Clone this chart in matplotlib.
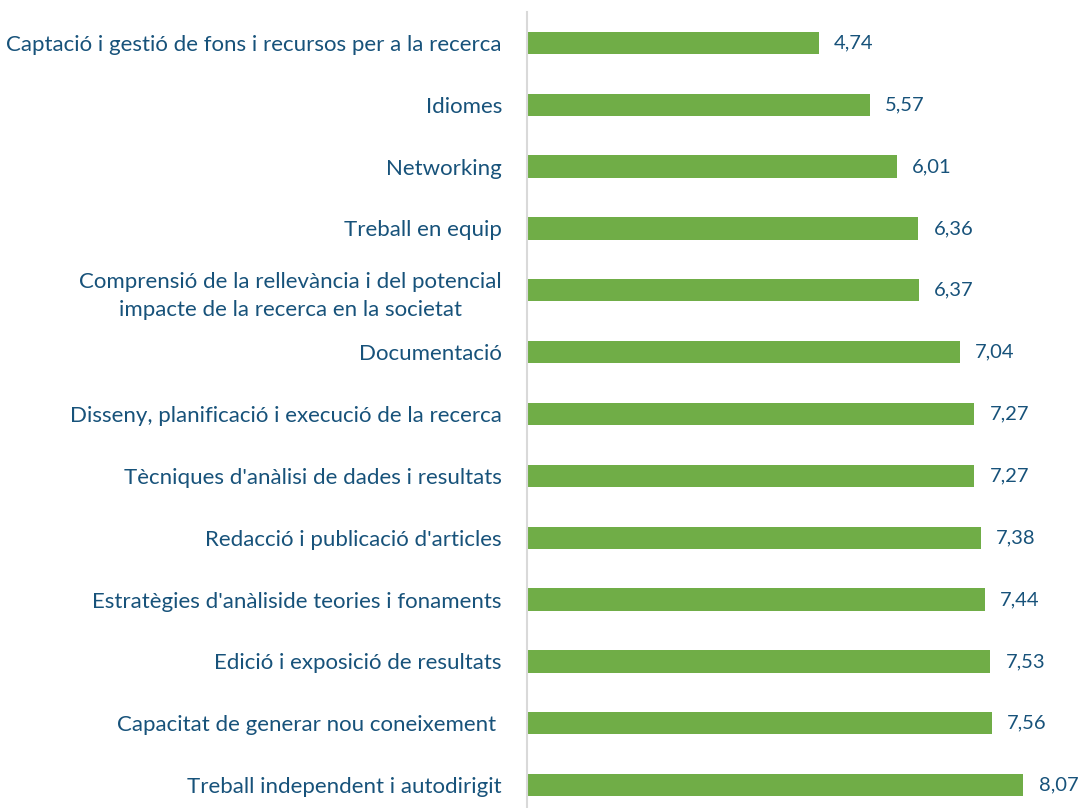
import matplotlib

matplotlib.use("Agg")

import matplotlib.pyplot as plt

# categories listed top to bottom, as in the reference
categories = [
    "Captació i gestió de fons i recursos per a la recerca",
    "Idiomes",
    "Networking",
    "Treball en equip",
    "Comprensió de la rellevància i del potencial\nimpacte de la recerca en la societat",
    "Documentació",
    "Disseny, planificació i execució de la recerca",
    "Tècniques d'anàlisi de dades i resultats",
    "Redacció i publicació d'articles",
    "Estratègies d'anàliside teories i fonaments",
    "Edició i exposició de resultats",
    "Capacitat de generar nou coneixement ",
    "Treball independent i autodirigit",
]
values = [4.74, 5.57, 6.01, 6.36, 6.37, 7.04, 7.27, 7.27, 7.38, 7.44, 7.53, 7.56, 8.07]

GREEN = "#70AD47"
TEXT = "#17527A"
W, H, DPI = 1082, 808, 100

plt.rcParams["font.family"] = ["Lato", "DejaVu Sans"]

fig = plt.figure(figsize=(W / DPI, H / DPI), dpi=DPI)
left, top, bottom = 527, 12, 816
ax = fig.add_axes([left / W, 1 - bottom / H, (W - left) / W, (bottom - top) / H])

y = list(range(len(categories)))
ax.barh(y, values, height=0.36, color=GREEN, zorder=2)
ax.set_ylim(len(categories) - 0.5, -0.5)
ax.set_xlim(0, (W - left) / 61.5)

for yi, v in zip(y, values):
    ax.text(v + 0.25, yi, f"{v:.2f}".replace(".", ","), color=TEXT,
            fontsize=14.5, ha="left", va="center")

ax.set_yticks(y)
ax.set_yticklabels(categories, fontsize=16, color=TEXT, multialignment="center",
                   linespacing=1.45)
ax.tick_params(axis="y", length=0, pad=18)
ax.set_xticks([])
for side in ("top", "right", "bottom"):
    ax.spines[side].set_visible(False)
ax.spines["left"].set_color("#D9D9D9")
ax.spines["left"].set_linewidth(1.5)

fig.savefig("out.png", dpi=DPI, facecolor="white")
